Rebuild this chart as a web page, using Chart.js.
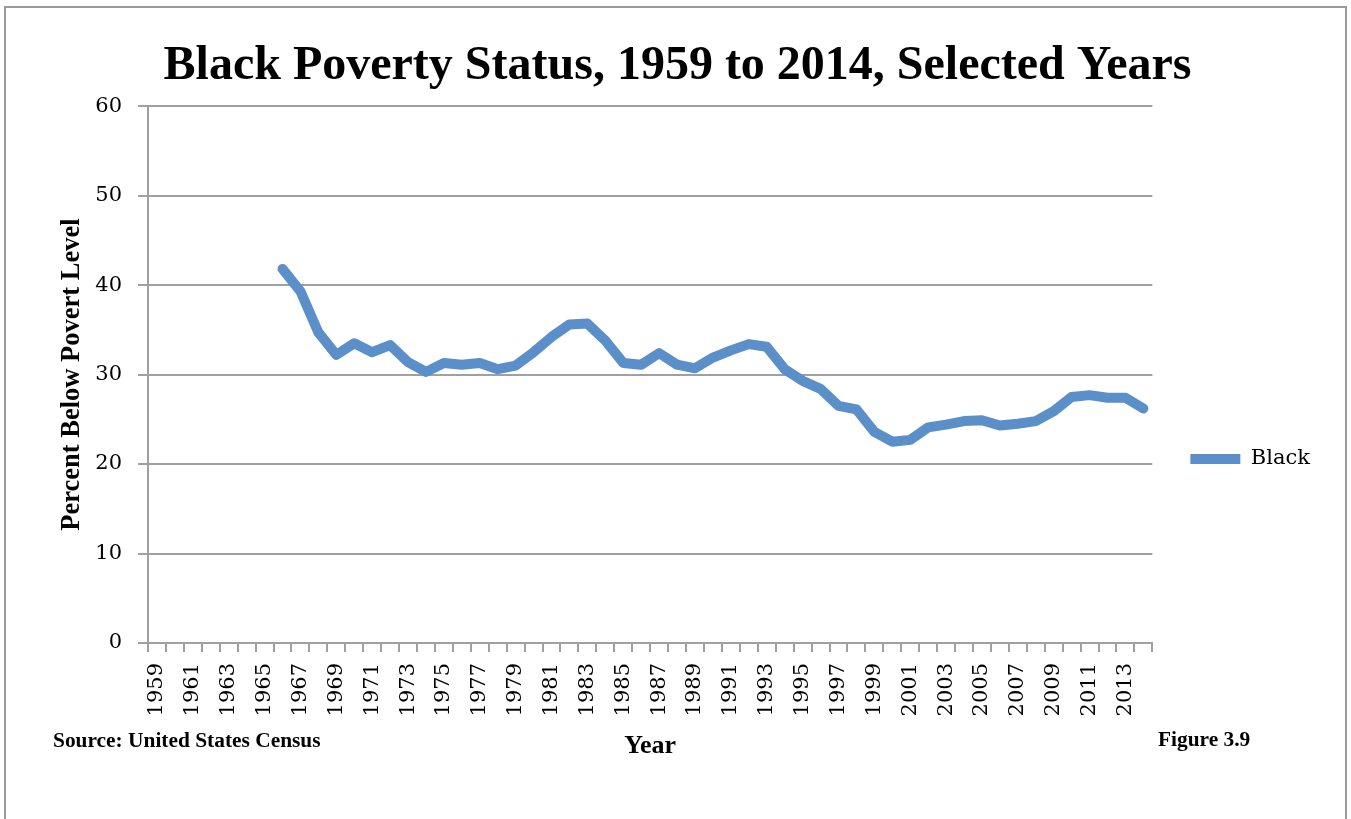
<!DOCTYPE html>
<html>
<head>
<meta charset="utf-8">
<title>Black Poverty Status, 1959 to 2014</title>
<script src="https://cdn.jsdelivr.net/npm/chart.js@4.4.1/dist/chart.umd.min.js"></script>
<style>
	html, body { margin: 0; padding: 0; background: #fff; overflow: hidden; }
	#frame {
		position: absolute; left: 4px; top: 6px; width: 1343px; height: 900px;
		box-sizing: border-box; border: 2px solid #9a9a9a; border-bottom: none;
	}
	#wrap { position: absolute; left: 0; top: 0; width: 1351px; height: 819px; }
	.note {
		position: absolute; font-family: "Liberation Serif", "Times New Roman", serif;
		font-weight: bold; font-size: 21.4px; line-height: 21px; color: #000; white-space: nowrap;
	}
	#source { left: 53px; top: 730px; }
	#figure { left: 1158px; top: 729px; }
</style>
</head>
<body>
<div id="frame"></div>
<div id="wrap"><canvas id="chart"></canvas></div>
<div class="note" id="source">Source: United States Census</div>
<div class="note" id="figure">Figure 3.9</div>

<script>
// categories: every year on the axis, only odd years get a label
var years = ['1959', '1960', '1961', '1962', '1963', '1964', '1965', '1966', '1967', '1968',
	'1969', '1970', '1971', '1972', '1973', '1974', '1975', '1976', '1977', '1978',
	'1979', '1980', '1981', '1982', '1983', '1984', '1985', '1986', '1987', '1988',
	'1989', '1990', '1991', '1992', '1993', '1994', '1995', '1996', '1997', '1998',
	'1999', '2000', '2001', '2002', '2003', '2004', '2005', '2006', '2007', '2008',
	'2009', '2010', '2011', '2012', '2013', '2014'];

// percent of Black persons below poverty level (no data before 1966)
var blackPct = [null, null, null, null, null, null, null,
	41.8, 39.3, 34.7, 32.2, 33.5, 32.5, 33.3, 31.4, 30.3, 31.3,
	31.1, 31.3, 30.6, 31.0, 32.5, 34.2, 35.6, 35.7, 33.8, 31.3,
	31.1, 32.4, 31.1, 30.7, 31.9, 32.7, 33.4, 33.1, 30.6, 29.3,
	28.4, 26.5, 26.1, 23.6, 22.5, 22.7, 24.1, 24.4, 24.8, 24.9,
	24.3, 24.5, 24.8, 25.9, 27.5, 27.7, 27.4, 27.4, 26.2];

var seriesLabel = 'Black';
var yMin = 0;
var yMax = 60;
var yStep = 10;

var chartTitle = 'Black Poverty Status, 1959 to 2014, Selected Years';
var yTitle = 'Percent Below Povert Level';
var xTitle = 'Year';

var LINE_BLUE = '#5a8fc9';
var GRID_GRAY = '#a0a0a0';
var SERIF = '"Liberation Serif", "Times New Roman", serif';
var TICK_FONT = '"DejaVu Serif", serif';

var ctx = document.getElementById('chart').getContext('2d');

var myChart = new Chart(ctx, {
	type: 'line',
	data: {
		labels: years,
		datasets: [{
			label: seriesLabel,
			data: blackPct,
			borderColor: LINE_BLUE,
			backgroundColor: LINE_BLUE,
			borderWidth: 10,
			borderCapStyle: 'round',
			borderJoinStyle: 'round',
			pointRadius: 0,
			pointHoverRadius: 0,
			tension: 0,
			spanGaps: false,
			fill: false
		}]
	},
	options: {
		responsive: true,
		maintainAspectRatio: false,
		animation: false,
		layout: {
			// uneven sides so the title sits where the original has it
			padding: { left: 35, right: 31, top: 0, bottom: 0 }
		},
		plugins: {
			title: {
				display: true,
				text: chartTitle,
				color: '#000',
				font: { family: SERIF, size: 48, weight: 'bold' },
				padding: { top: 37.5, bottom: 11 }
			},
			legend: {
				display: true,
				position: 'right',
				align: 'start',
				// empty title only used to push the single entry down next to the plot
				title: { display: true, text: '', font: { size: 12 }, padding: { top: 396, bottom: 0 } },
				labels: {
					usePointStyle: true,
					pointStyle: 'line',
					pointStyleWidth: 50,
					padding: 38,
					color: '#000',
					font: { family: TICK_FONT, size: 21 }
				}
			},
			tooltip: { enabled: false }
		},
		scales: {
			x: {
				type: 'category',
				offset: true,
				afterFit: function(scale) { scale.height = 176; },
				grid: {
					offset: true,
					drawOnChartArea: false,
					drawTicks: true,
					tickLength: 9,
					color: GRID_GRAY,
					lineWidth: 2
				},
				border: { display: true, color: GRID_GRAY, width: 2 },
				ticks: {
					autoSkip: false,
					minRotation: 90,
					maxRotation: 90,
					padding: 11,
					color: '#000',
					font: { family: TICK_FONT, size: 21 },
					callback: function(value, index) {
						return index % 2 === 0 ? this.getLabelForValue(value) : '';
					}
				},
				title: {
					display: true,
					text: xTitle,
					color: '#000',
					font: { family: SERIF, size: 26, weight: 'bold' },
					padding: { top: 0, bottom: 57 }
				}
			},
			y: {
				min: yMin,
				max: yMax,
				afterFit: function(scale) { scale.width = 113; },
				grid: {
					drawOnChartArea: true,
					drawTicks: true,
					tickLength: 10,
					color: GRID_GRAY,
					lineWidth: 2
				},
				border: { display: true, color: GRID_GRAY, width: 2 },
				ticks: {
					stepSize: yStep,
					padding: 16,
					color: '#000',
					font: { family: TICK_FONT, size: 21 }
				},
				title: {
					display: true,
					text: yTitle,
					color: '#000',
					font: { family: SERIF, size: 26.5, weight: 'bold' },
					padding: { top: 21, bottom: 0 }
				}
			}
		}
	}
});
</script>
</body>
</html>
